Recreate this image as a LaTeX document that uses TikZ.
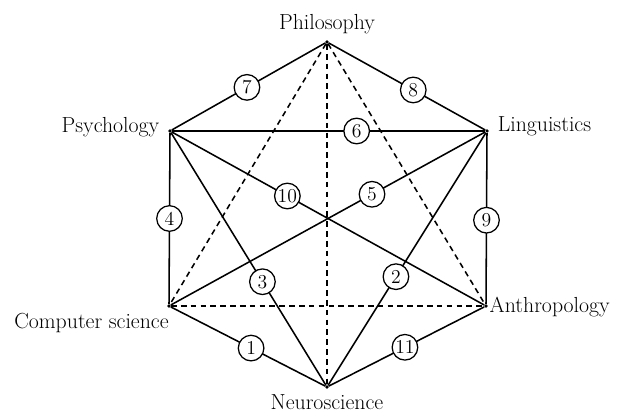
\documentclass[tikz,border=0pt]{standalone}
\usepackage{tikz}
\usetikzlibrary{positioning}

\begin{document}
\begin{tikzpicture}[
    x=0.025cm, y=-0.025cm,
    vertex/.style={circle, fill, inner sep=0pt, minimum size=2.5pt},
    lab/.style={font=\fontsize{15.5}{17}\selectfont, inner sep=1pt},
    num/.style={circle, draw, fill=white, line width=0.9pt, inner sep=0pt,
    minimum size=0.64cm, font=\fontsize{14}{15}\selectfont},
    edge/.style={line width=1.1pt},
    link/.style={line width=1.1pt, dash pattern=on 4pt off 3pt}
]

\useasboundingbox (0,0) rectangle (633,418);

% the six fields
\node[vertex] (phil) at (327,42) {};
\node[vertex] (psy) at (170,131) {};
\node[vertex] (ling) at (487,131) {};
\node[vertex] (anth) at (486,306) {};
\node[vertex] (neuro) at (327,387) {};
\node[vertex] (comp) at (169,306) {};

\node[lab, above=3pt of phil] (tphil) {Philosophy};
\node[lab, left=5pt of psy, yshift=3pt] (tpsy) {Psychology};
\node[lab, right=5pt of ling, yshift=3pt] (tling) {Linguistics};
\node[lab, right=0pt of anth, yshift=-1pt] (tanth) {Anthropology};
\node[lab, below left=3pt and -2pt of comp] (tcomp) {Computer science};
\node[lab, below=3pt of neuro] (tneuro) {Neuroscience};

% dashed links
\draw[link] (phil) -- (comp);
\draw[link] (phil) -- (anth);
\draw[link] (phil) -- (neuro);
\draw[link] (comp) -- (anth);

% solid links with numbers
\draw[edge] (psy) -- node[num, pos=0.49] (n7) {7} (phil);
\draw[edge] (phil) -- node[num, pos=0.54] (n8) {8} (ling);
\draw[edge] (psy) -- node[num, pos=0.59] (n6) {6} (ling);
\draw[edge] (psy) -- node[num, pos=0.5] (n4) {4} (comp);
\draw[edge] (ling) -- node[num, pos=0.51] (n9) {9} (anth);
\draw[edge] (psy) -- node[num, pos=0.37] (n10) {10} (anth);
\draw[edge] (comp) -- node[num, pos=0.64] (n5) {5} (ling);
\draw[edge] (psy) -- node[num, pos=0.59] (n3) {3} (neuro);
\draw[edge] (ling) -- node[num, pos=0.57] (n2) {2} (neuro);
\draw[edge] (comp) -- node[num, pos=0.52] (n1) {1} (neuro);
\draw[edge] (neuro) -- node[num, pos=0.49] (n11) {11} (anth);

\end{tikzpicture}
\end{document}
